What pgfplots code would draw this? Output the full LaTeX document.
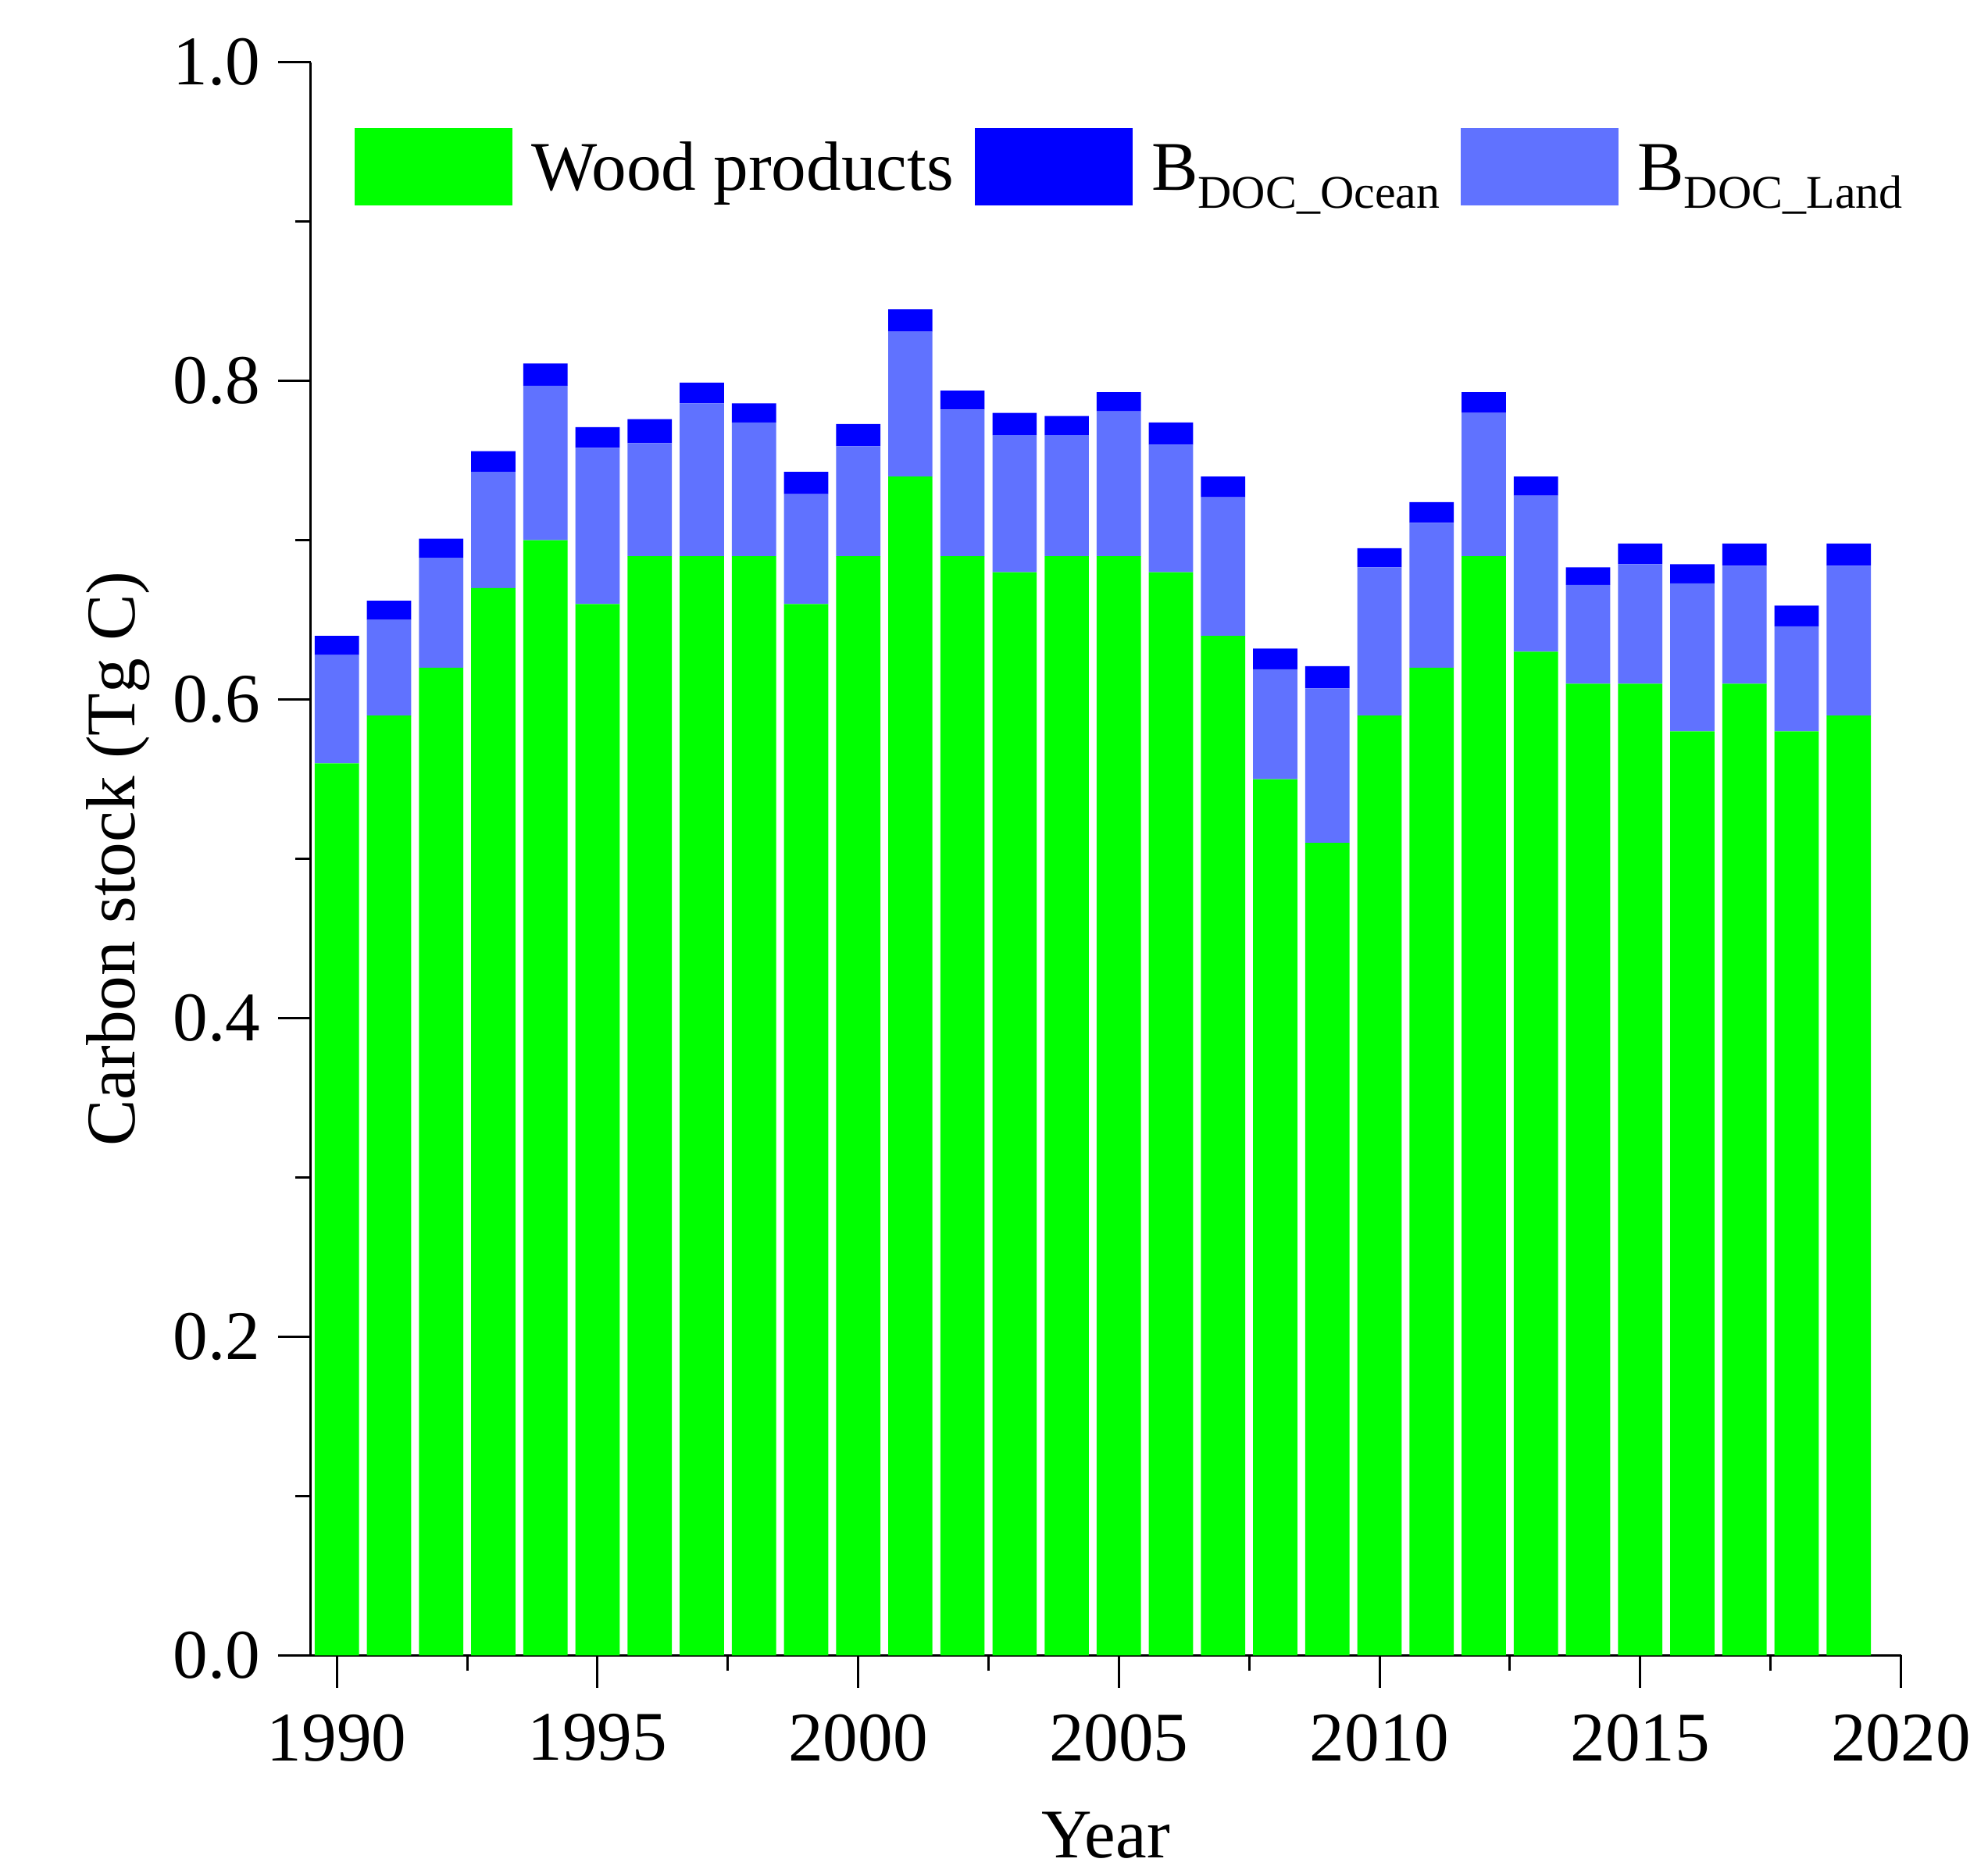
\documentclass[border=0pt]{standalone}
\usepackage{fontspec}
\setmainfont{Liberation Serif}
\usepackage{pgfplots}
\usepackage{pgfplotstable}
\pgfplotsset{compat=1.18}
\definecolor{wood}{RGB}{0,255,0}
\definecolor{ocean}{RGB}{0,0,255}
\definecolor{land}{RGB}{96,114,255}
\newcommand{\fs}{\fontsize{13.4pt}{16pt}\selectfont}
\newcommand{\sub}[1]{\raisebox{-3.6pt}{\fontsize{9pt}{10pt}\selectfont #1}}
\pgfplotstableread{
year wood land ocean
1990 0.56 0.068 0.012
1991 0.59 0.060 0.012
1992 0.62 0.069 0.012
1993 0.67 0.073 0.013
1994 0.70 0.097 0.014
1995 0.66 0.098 0.013
1996 0.69 0.071 0.015
1997 0.69 0.096 0.013
1998 0.69 0.084 0.012
1999 0.66 0.069 0.014
2000 0.69 0.069 0.014
2001 0.74 0.091 0.014
2002 0.69 0.092 0.012
2003 0.68 0.086 0.014
2004 0.69 0.076 0.012
2005 0.69 0.091 0.012
2006 0.68 0.080 0.014
2007 0.64 0.087 0.013
2008 0.55 0.069 0.013
2009 0.51 0.097 0.014
2010 0.59 0.093 0.012
2011 0.62 0.091 0.013
2012 0.69 0.090 0.013
2013 0.63 0.098 0.012
2014 0.61 0.062 0.011
2015 0.61 0.075 0.013
2016 0.58 0.093 0.012
2017 0.61 0.074 0.014
2018 0.58 0.066 0.013
2019 0.59 0.094 0.014
}\datatable
\begin{document}
\begin{tikzpicture}
\begin{axis}[
  scale only axis, width=305.6pt, height=306.15pt,
  xmin=1989.5, xmax=2020, ymin=0, ymax=1,
  clip=false,
  axis x line*=bottom, axis y line*=left,
  axis line style={line width=0.45pt, black},
  tick align=outside,
  major tick length=6.2pt, minor tick length=3pt,
  every tick/.style={black, line width=0.45pt},
  xtick={1990,1995,2000,2005,2010,2015,2020},
  minor xtick={1992.5,1997.5,2002.5,2007.5,2012.5,2017.5},
  ytick={0,0.2,0.4,0.6,0.8,1},
  minor ytick={0.1,0.3,0.5,0.7,0.9},
  /pgf/number format/assume math mode=true,
  yticklabel style={font=\fs, /pgf/number format/fixed, /pgf/number format/fixed zerofill, /pgf/number format/precision=1},
  xticklabel style={font=\fs, /pgf/number format/1000 sep={}, yshift=-1.6pt},
  xlabel={Year}, ylabel={Carbon stock (Tg C)},
  xlabel style={font=\fs, inner sep=0pt, at={(axis description cs:0.5,-0.113)}, anchor=center},
  ylabel style={font=\fs, inner sep=0pt, at={(axis description cs:-0.121,0.5)}, anchor=center},
  ybar stacked, bar width=0.85,
  legend columns=3,
  legend style={at={(0.0275,0.959)}, anchor=north west, draw=none, fill=none,
    inner sep=0pt, outer sep=0pt, font=\fs,
    nodes={inner sep=0pt, text height=8.87pt, text depth=0pt},
    /tikz/every odd column/.append style={column sep=3.6pt},
    /tikz/every even column/.append style={column sep=4pt}},
]
\addlegendimage{legend image code/.code={\fill[wood] (0pt,-7.3pt) rectangle (30pt,7.3pt);}}
\addlegendentry{Wood products}
\addlegendimage{legend image code/.code={\fill[ocean] (0pt,-7.3pt) rectangle (30pt,7.3pt);}}
\addlegendentry{B\sub{DOC\_Ocean}}
\addlegendimage{legend image code/.code={\fill[land] (0pt,-7.3pt) rectangle (30pt,7.3pt);}}
\addlegendentry{B\sub{DOC\_Land}}
\addplot[fill=wood, draw=none] table[x=year, y=wood] {\datatable};
\addplot[fill=land, draw=none] table[x=year, y=land] {\datatable};
\addplot[fill=ocean, draw=none] table[x=year, y=ocean] {\datatable};
\path (rel axis cs:-0.1954,-0.1362) rectangle (rel axis cs:1.054,1.0392);
\end{axis}
\end{tikzpicture}
\end{document}
